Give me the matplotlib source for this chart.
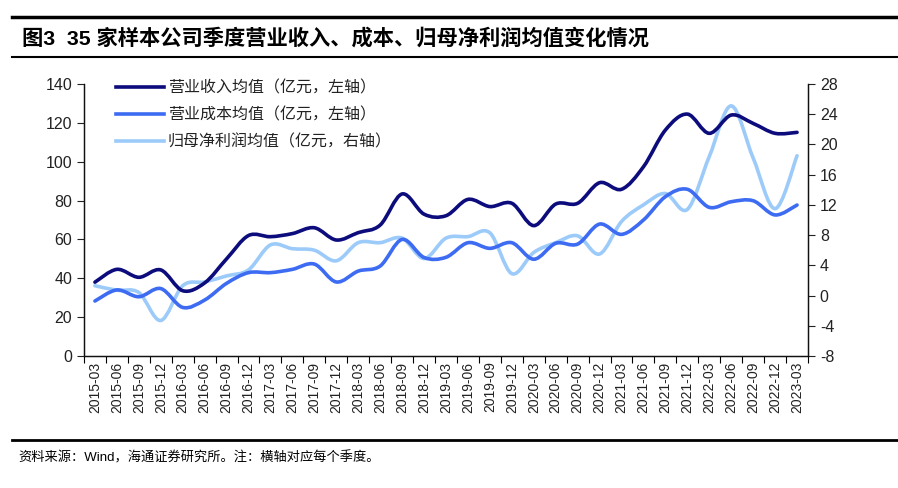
import matplotlib
matplotlib.use("Agg")
import matplotlib.pyplot as plt
from matplotlib.path import Path
from matplotlib.patches import PathPatch
from matplotlib.lines import Line2D
import numpy as np

plt.rcParams["font.family"] = ["Liberation Sans", "Noto Sans CJK SC", "DejaVu Sans"]
plt.rcParams["axes.unicode_minus"] = False

# ---------------------------------------------------------------------------
# Data
# ---------------------------------------------------------------------------
quarters = [
    "2015-03", "2015-06", "2015-09", "2015-12",
    "2016-03", "2016-06", "2016-09", "2016-12",
    "2017-03", "2017-06", "2017-09", "2017-12",
    "2018-03", "2018-06", "2018-09", "2018-12",
    "2019-03", "2019-06", "2019-09", "2019-12",
    "2020-03", "2020-06", "2020-09", "2020-12",
    "2021-03", "2021-06", "2021-09", "2021-12",
    "2022-03", "2022-06", "2022-09", "2022-12",
    "2023-03",
]
revenue = [38, 44.6, 40.5, 44.3, 33.6, 37.6, 50, 62, 61.4, 63, 66, 59.7,
           63.5, 67.4, 83.4, 73, 72.2, 80.6, 76.9, 78.6, 67.1, 78.2, 78.6,
           89.2, 85.8, 97.4, 116.3, 124.5, 114.6, 124, 119.7, 114.6, 115.1]
cost = [28.3, 34, 30.5, 34.7, 25, 28.8, 37.4, 42.9, 42.9, 44.6, 47.3, 38.1,
        43.7, 46.3, 60, 50.7, 50.8, 58.3, 55.4, 58.3, 49.8, 58, 57.6, 67.9,
        62.6, 70, 82, 85.8, 76.5, 79.4, 79.9, 72.6, 77.7]
profit = [1.3, 0.7, 0.4, -3.3, 1.3, 1.8, 2.6, 3.4, 6.7, 6.2, 6.0, 4.6, 7.0,
          7.0, 7.6, 4.9, 7.6, 7.8, 8.3, 2.9, 5.7, 7.0, 7.9, 5.5, 9.8, 12.0,
          13.5, 11.4, 18.4, 25.1, 18.2, 11.5, 18.5]

series_labels = [
    "营业收入均值（亿元，左轴）",
    "营业成本均值（亿元，左轴）",
    "归母净利润均值（亿元，右轴）",
]
COLORS = ["#0C0C7C", "#3D6CF2", "#9CCBFA"]
LW = 2.6


def smooth_path(x, y):
    # Catmull-Rom style smoothing rendered as cubic bezier segments
    x = np.asarray(x, float)
    y = np.asarray(y, float)
    verts = [(x[0], y[0])]
    codes = [Path.MOVETO]
    n = len(x)
    for i in range(n - 1):
        p0 = (x[max(i - 1, 0)], y[max(i - 1, 0)])
        p1 = (x[i], y[i])
        p2 = (x[i + 1], y[i + 1])
        p3 = (x[min(i + 2, n - 1)], y[min(i + 2, n - 1)])
        c1 = (p1[0] + (p2[0] - p0[0]) / 6, p1[1] + (p2[1] - p0[1]) / 6)
        c2 = (p2[0] - (p3[0] - p1[0]) / 6, p2[1] - (p3[1] - p1[1]) / 6)
        verts += [c1, c2, p2]
        codes += [Path.CURVE4] * 3
    return Path(verts, codes)


def add_line(ax, y, color):
    x = np.arange(len(y))
    patch = PathPatch(smooth_path(x, y), facecolor="none", edgecolor=color,
                      linewidth=LW, capstyle="round", joinstyle="round",
                      zorder=3)
    ax.add_patch(patch)


fig = plt.figure(figsize=(8.98, 4.88), dpi=100)
ax = fig.add_axes([0.0935, 0.2705, 0.8063, 0.5574])
ax2 = ax.twinx()

add_line(ax2, profit, COLORS[2])
add_line(ax, revenue, COLORS[0])
add_line(ax, cost, COLORS[1])
ax.set_zorder(ax2.get_zorder() + 1)
ax.patch.set_visible(False)

n = len(quarters)
ax.set_xlim(-0.5, n - 0.5)
ax.set_ylim(0, 140)
ax.set_yticks(np.arange(0, 141, 20))
ax2.set_ylim(-8, 28)
ax2.set_yticks(np.arange(-8, 29, 4))

ax.set_xticks(np.arange(-0.5, n, 1.0))
ax.set_xticklabels([])
ax.set_xticks(np.arange(n), minor=True)
ax.set_xticklabels(quarters, minor=True, rotation=90, fontsize=10,
                   color="#222222")
ax.tick_params(axis="x", which="minor", length=0, pad=4)
ax.tick_params(axis="x", which="major", direction="out", length=5,
               width=0.8)
ax.tick_params(axis="y", direction="out", length=5, width=0.8,
               labelsize=11.5, colors="#222222")
ax2.tick_params(axis="y", direction="out", length=5, width=0.8,
                labelsize=11.5, colors="#222222")

for a in (ax, ax2):
    a.spines["top"].set_visible(False)
    for s in ("left", "right", "bottom"):
        a.spines[s].set_linewidth(0.9)
        a.spines[s].set_color("#111111")

handles = [Line2D([0], [0], color=c, linewidth=LW) for c in COLORS]
leg = ax.legend(handles, series_labels, loc="upper left",
                bbox_to_anchor=(0.025, 1.07), frameon=False,
                handlelength=3.0, labelspacing=0.62, handletextpad=0.2,
                prop={"family": ["Noto Sans CJK SC"], "size": 11.5})
for t in leg.get_texts():
    t.set_color("#222222")

# header / footer rules and texts
fig.add_artist(Line2D([0.013, 1.0], [1 - 17 / 488, 1 - 17 / 488],
                      color="black", linewidth=2.5))
fig.add_artist(Line2D([0.013, 1.0], [1 - 57 / 488, 1 - 57 / 488],
                      color="black", linewidth=1.5))
fig.add_artist(Line2D([0.013, 1.0], [1 - 440 / 488, 1 - 440 / 488],
                      color="black", linewidth=2.0))
fig.text(0.024, 1 - 38 / 488, "图3  35 家样本公司季度营业收入、成本、归母净利润均值变化情况",
         fontsize=15.3, fontweight="bold", va="center", ha="left",
         family=["Liberation Sans", "Noto Sans CJK SC"])
fig.text(0.02, 1 - 458 / 488, "资料来源：Wind，海通证券研究所。注：横轴对应每个季度。",
         fontsize=9.5, va="center", ha="left",
         family=["Liberation Sans", "Noto Sans CJK SC"])

fig.savefig("out.png", dpi=100, facecolor="white")
